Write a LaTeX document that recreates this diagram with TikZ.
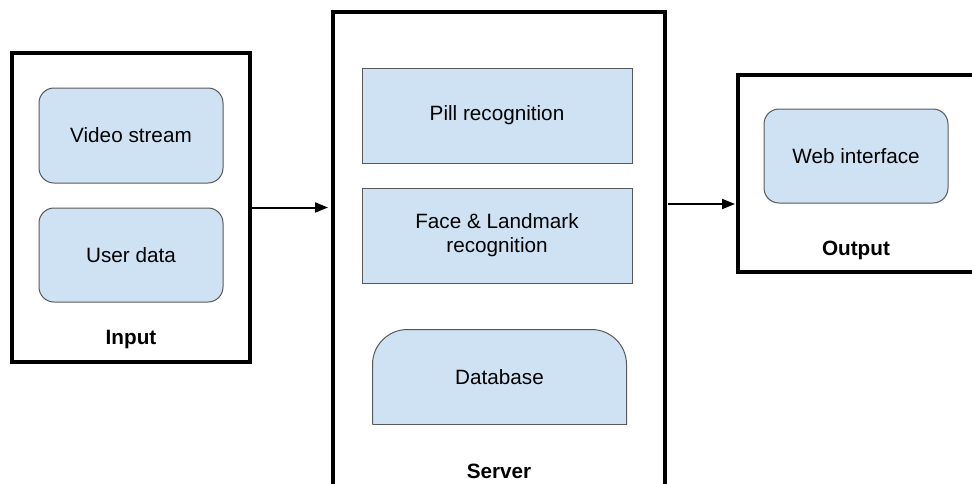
\documentclass[tikz,border=0pt]{standalone}
\usepackage{fontspec}
\setmainfont{Liberation Sans}
\usetikzlibrary{arrows.meta}
\definecolor{boxfill}{HTML}{CFE2F3}
\definecolor{boxline}{HTML}{595959}
\tikzset{
  outerbox/.style={draw=black, line width=4pt, inner sep=0pt, fill=none},
  innerbox/.style={draw=boxline, line width=1pt, fill=boxfill, inner sep=0pt, align=center,
    font=\fontsize{20.7}{24}\selectfont},
  roundbox/.style={innerbox, rounded corners=15pt},
  grouplabel/.style={font=\fontsize{20.7}{24}\selectfont\bfseries, inner sep=0pt},
  flow/.style={line width=2pt, -{Triangle[length=13pt,width=10pt]}}
}
\begin{document}
\begin{tikzpicture}[x=1pt,y=-1pt]
\useasboundingbox (0,0) rectangle (972,483);
\clip (0,0) rectangle (972,483);
% Input group
\node[outerbox, minimum width=238pt, minimum height=309pt] (inbox) at (131,207.5) {};
\node[roundbox, minimum width=184pt, minimum height=95pt] (video) at (131,135.5) {Video stream};
\node[roundbox, minimum width=184pt, minimum height=94pt] (user) at (131,255) {User data};
\node[grouplabel] (inlabel) at (131,340) {Input};
% Server group
\node[outerbox, minimum width=332pt, minimum height=508pt] (server) at (499,266) {};
\node[innerbox, minimum width=270pt, minimum height=95pt] (pill) at (497,115.5) {Pill recognition};
\node[innerbox, minimum width=270pt, minimum height=95pt] (face) at (497,235.5) {Face \& Landmark\\recognition};
\node[innerbox, draw=none, fill=none, minimum width=253pt, minimum height=94pt] (db) at (499.5,377) {};
\fill[boxfill, rounded corners=35pt] (db.south west) -- (db.north west) -- (db.north east) -- (db.south east);
\draw[boxline, line width=1pt, rounded corners=35pt] (db.south west) -- (db.north west) -- (db.north east) -- (db.south east);
\draw[boxline, line width=1pt] (db.south west) -- (db.south east);
\node[font=\fontsize{20.7}{24}\selectfont, inner sep=0pt] (dbtext) at (db.center) {Database};
\node[grouplabel] (srvlabel) at (499,471) {Server};
% Output group
\node[outerbox, minimum width=236pt, minimum height=197pt] (outbox) at (856,173.5) {};
\node[roundbox, minimum width=184pt, minimum height=94pt] (web) at (856,156) {Web interface};
\node[grouplabel] (outlabel) at (856,250) {Output};
% Connectors
\coordinate (a2) at (0,204);
\draw[flow, shorten >=3pt] (inbox.east) -- (inbox.east -| server.west);
\draw[flow, shorten >=1pt, shorten <=1pt] (server.east |- a2) -- (outbox.west |- a2);
\end{tikzpicture}
\end{document}
